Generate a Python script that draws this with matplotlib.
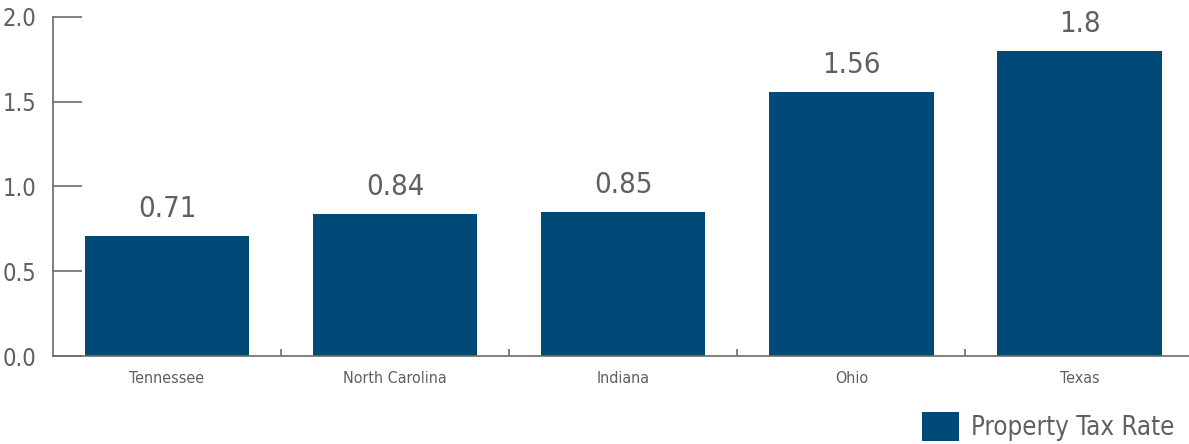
import matplotlib
matplotlib.use("Agg")
import matplotlib.pyplot as plt
from matplotlib import font_manager

states = ["Tennessee", "North Carolina", "Indiana", "Ohio", "Texas"]
rates = [0.71, 0.84, 0.85, 1.56, 1.8]
rate_labels = ["0.71", "0.84", "0.85", "1.56", "1.8"]
y_ticks = [0.0, 0.5, 1.0, 1.5, 2.0]

bar_color = "#004a77"
text_color = "#5f5f66"
axis_color = "#6b6b6b"

# look for a narrow, regular face
faces = font_manager.fontManager.ttflist
narrow = [f for f in faces if ("condensed" in str(f.stretch).lower() or "narrow" in f.name.lower()
                               or "condensed" in f.fname.lower())
          and f.weight in (400, "normal", "regular") and f.style == "normal"]
narrow.sort(key=lambda f: f.fname)
if narrow:
    family = narrow[0].name
    plt.rcParams["font.stretch"] = narrow[0].stretch
else:
    family = "DejaVu Sans"
plt.rcParams["font.family"] = family

fig = plt.figure(figsize=(11.89, 4.44), dpi=100)
ax = fig.add_axes([53 / 1189, 88 / 444, 1 - 53 / 1189, 339 / 444])

x = list(range(len(states)))
bars = ax.bar(x, rates, width=0.72, color=bar_color, label="Property Tax Rate")

for xi, v, lab in zip(x, rates, rate_labels):
    ax.text(xi, v + 0.112, lab, ha="center", va="baseline", fontsize=21, color=text_color)

ax.set_xlim(-0.5, 4.48)
ax.set_ylim(0, 2.0)
ax.set_yticks(y_ticks)
ax.set_yticklabels([f"{t:.1f}" for t in y_ticks])
ax.set_xticks(x)
ax.set_xticklabels(states)
ax.set_xticks([0.5, 1.5, 2.5, 3.5], minor=True)

ax.tick_params(axis="y", direction="in", length=21, width=1.2, color=axis_color,
               labelsize=17, labelcolor=text_color, pad=12)
ax.tick_params(axis="x", which="major", length=0, labelsize=11.5, labelcolor=text_color, pad=11)
ax.tick_params(axis="x", which="minor", direction="in", length=5, width=1.2, color=axis_color)

for s in ["top", "right"]:
    ax.spines[s].set_visible(False)
for s in ["left", "bottom"]:
    ax.spines[s].set_color(axis_color)
    ax.spines[s].set_linewidth(1.2)

ax.legend(loc="lower right", bbox_to_anchor=(1 - 12 / 1189, 0.0), bbox_transform=fig.transFigure,
          frameon=False, fontsize=18.5, labelcolor=text_color, handlelength=1.45,
          handleheight=1.35, handletextpad=0.45, borderpad=0.0, borderaxespad=0.1)

fig.savefig("out.png", dpi=100)
